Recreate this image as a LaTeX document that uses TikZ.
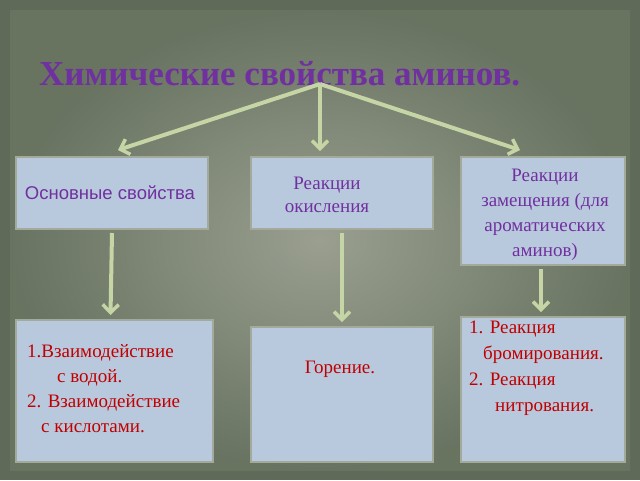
\documentclass[tikz,border=0pt]{standalone}
\usepackage{fontspec}
\setmainfont{Liberation Serif}
\newfontfamily\sansf{Liberation Sans}
\usetikzlibrary{arrows.meta,calc}
\definecolor{bgout}{HTML}{5F6B58}
\definecolor{bgin}{HTML}{9A9F90}
\definecolor{boxf}{HTML}{B9C9DD}
\definecolor{boxd}{HTML}{A3AA9C}
\definecolor{arr}{HTML}{C5D5A5}
\definecolor{purp}{HTML}{7030A0}
\definecolor{redt}{HTML}{C00000}
\tikzset{
 box/.style={draw=boxd, line width=2pt, fill=boxf, inner sep=0pt},
 con/.style={draw=arr, line width=4pt, -{Straight Barb[length=8pt,width=16pt,line width=3.5pt]}},
 txt/.style={align=center, font=\fontsize{19}{23}\selectfont},
}
\begin{document}
\begin{tikzpicture}[x=1pt,y=-1pt]
\useasboundingbox (0,0) rectangle (640,480);
\fill[bgout] (0,0) rectangle (640,480);
\shade[inner color=bgin, outer color=bgout!85!bgin] (10,10) rectangle (630,470);
\node[font=\fontsize{35}{40}\selectfont\bfseries, text=purp, anchor=west, inner sep=0pt] (title) at (39,74) {Химические свойства аминов.};
\coordinate (top) at (320,84);
\node[box, minimum width=192pt, minimum height=72pt] (b1) at (112,193) {};
\node[box, minimum width=182pt, minimum height=72pt] (b2) at (342,193) {};
\node[box, minimum width=164pt, minimum height=108pt] (b3) at (543,211) {};
\node[box, minimum width=197pt, minimum height=142pt] (b4) at (114.5,391) {};
\node[box, minimum width=182pt, minimum height=135pt] (b5) at (342,394.5) {};
\node[box, minimum width=164pt, minimum height=145pt] (b6) at (543,389.5) {};
\node[txt, text=purp, font=\sansf\fontsize{18.5}{22}\selectfont] at (110,193) {Основные свойства};
\node[txt, text=purp, font=\fontsize{19}{23}\selectfont] at (327,195) {Реакции\\окисления};
\node[txt, text=purp, font=\fontsize{19}{25}\selectfont] at (545,215) {Реакции\\замещения (для\\ароматических\\аминов)};
\node[txt, text=redt, align=left, anchor=north west, inner sep=0pt, font=\fontsize{19}{25}\selectfont] at (27,344) {1.Взаимодействие\\\hspace*{30pt}с водой.\\2. Взаимодействие\\\hspace*{14pt}с кислотами.};
\node[txt, text=redt] at (340,369) {Горение.};
\node[txt, text=redt, align=left, anchor=north west, inner sep=0pt, font=\fontsize{19}{26}\selectfont] at (469,321) {1. Реакция\\\hspace*{14pt}бромирования.\\2. Реакция\\\hspace*{26pt}нитрования.};
\draw[con] (top) -- (118,150);
\draw[con] (top) -- (320,151);
\draw[con] (top) -- (520,150);
\draw[con] ($(b1.south)+(0,3)$) -- ($(b4.north)+(-4,-4)$);
\draw[con] ($(b2.south)+(0,3)$) -- ($(b5.north)+(0,-4)$);
\draw[con] ($(b3.south)+(-2,3)$) -- ($(b6.north)+(-2,-4)$);
\end{tikzpicture}
\end{document}
